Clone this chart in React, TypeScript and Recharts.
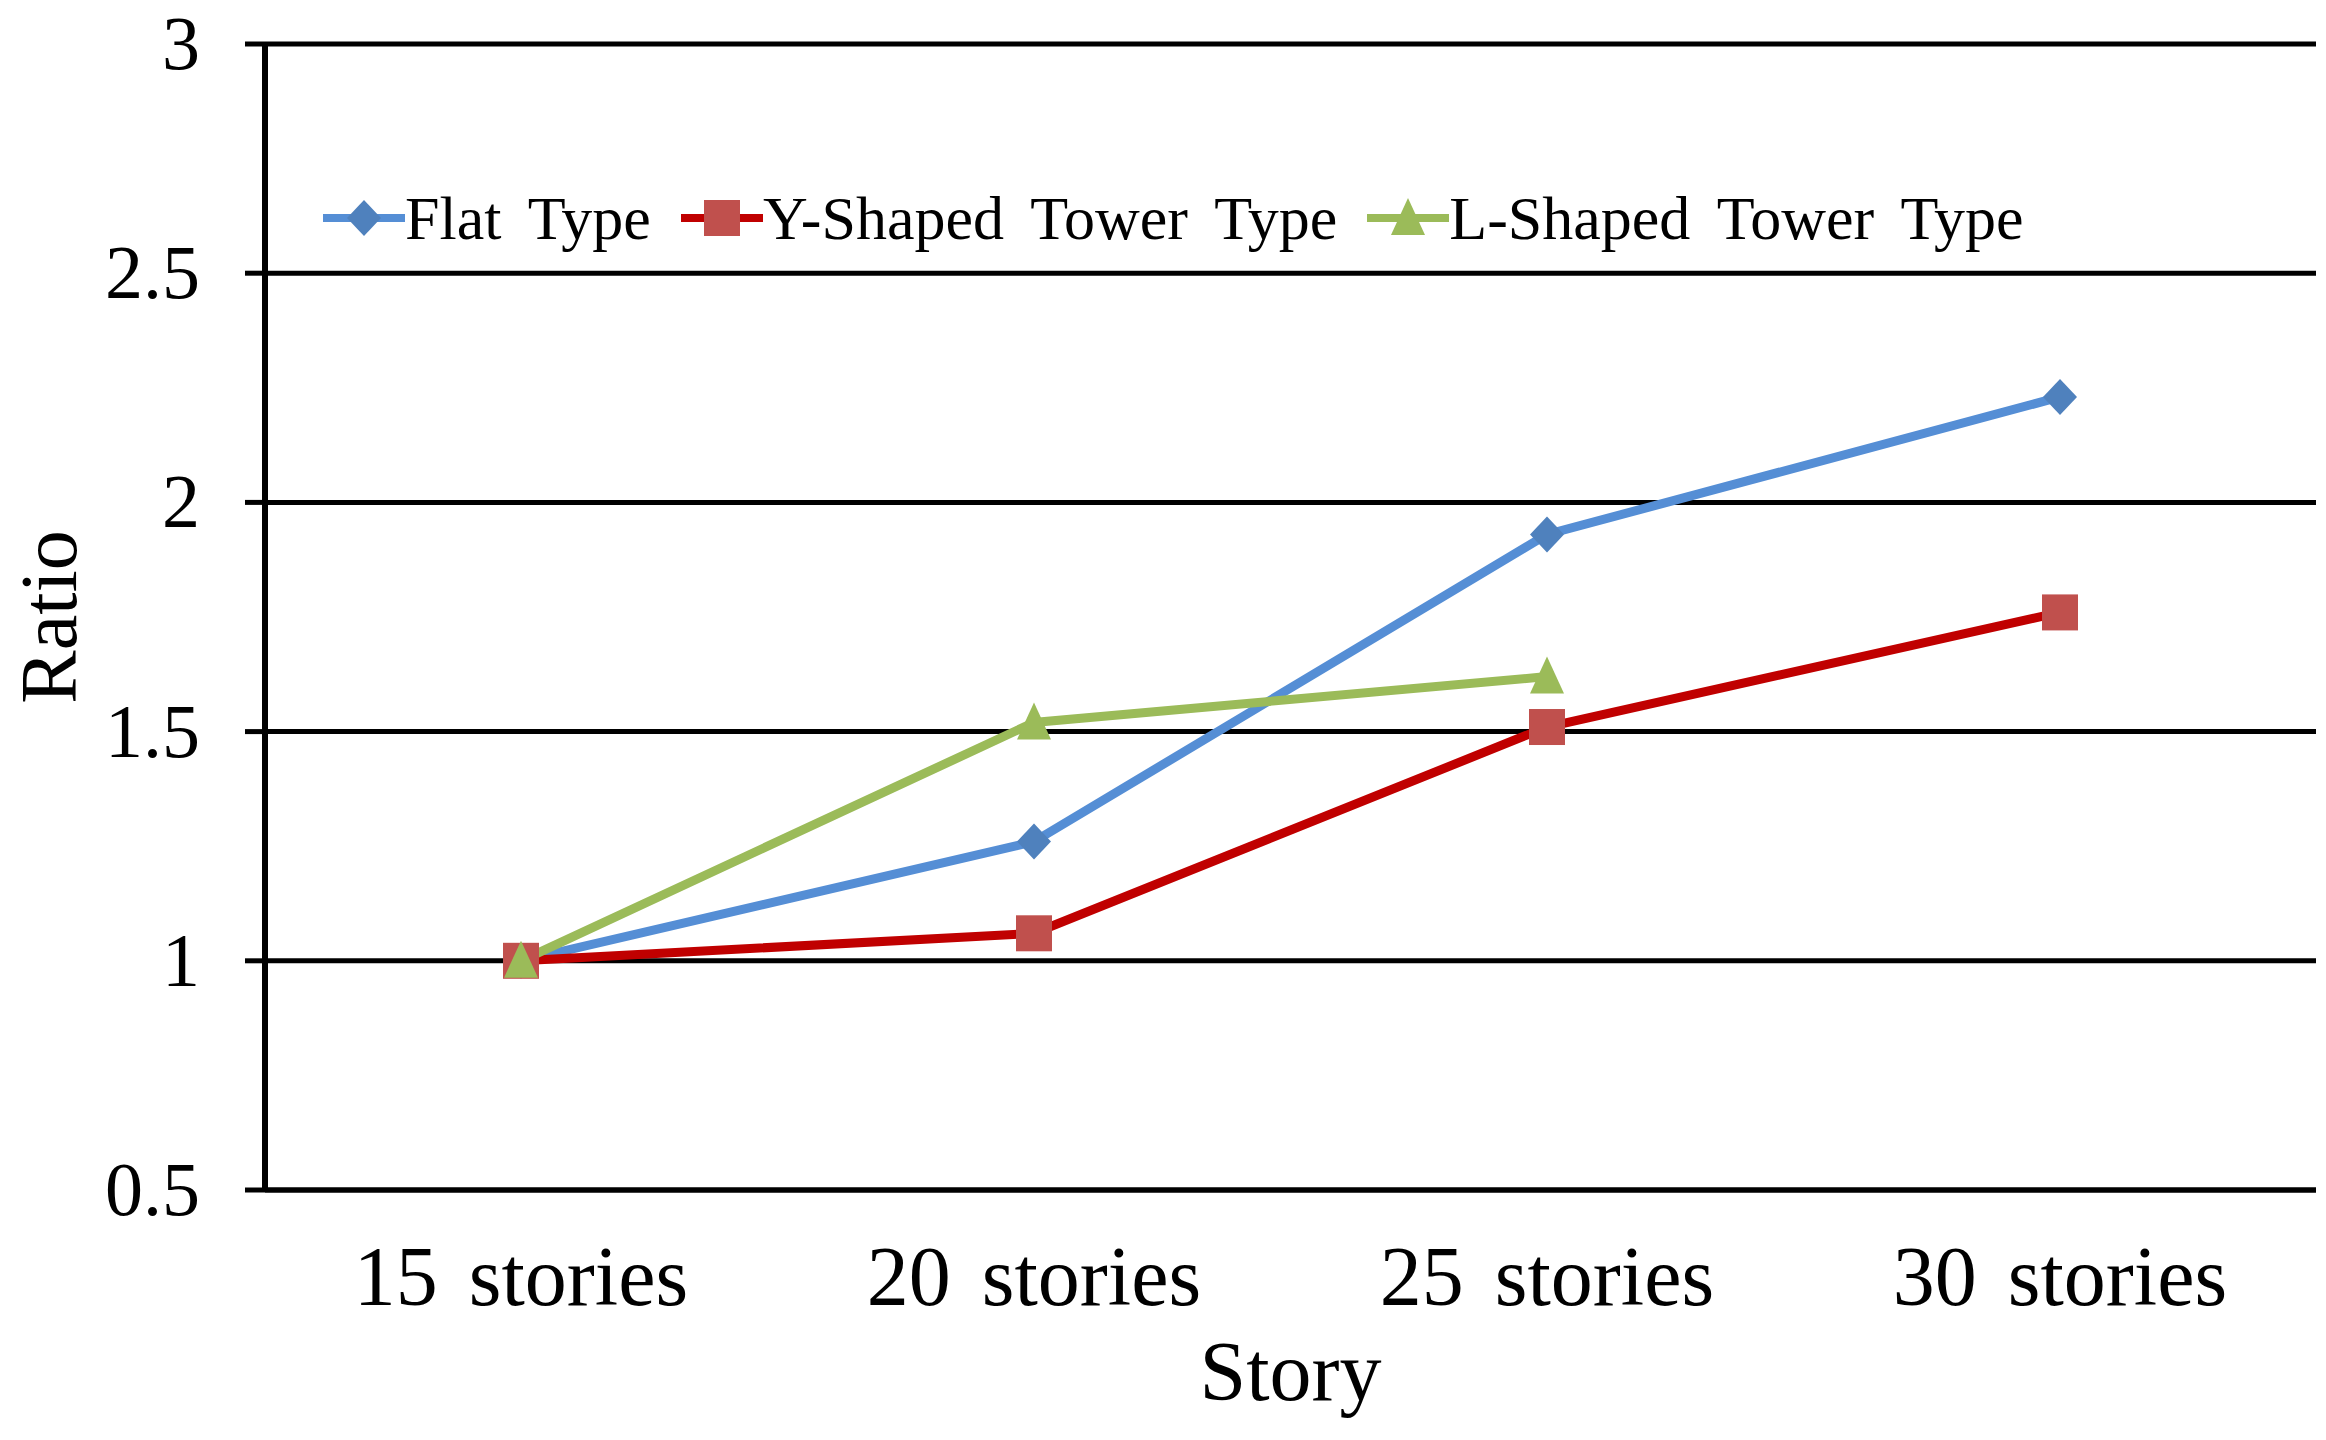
import { LineChart, Line, XAxis, YAxis, CartesianGrid, Legend, Label } from "recharts";

// values
const categories = ["15 stories", "20 stories", "25 stories", "30 stories"];
const flatType = [1.0, 1.26, 1.93, 2.23];
const yShapedTower = [1.0, 1.06, 1.51, 1.76];
const lShapedTower = [1.0, 1.52, 1.62, null];
const yTicks = [0.5, 1, 1.5, 2, 2.5, 3];

const seriesNames = ["Flat Type", "Y-Shaped Tower Type", "L-Shaped Tower Type"];
const seriesKeys = ["flat", "yShaped", "lShaped"];
const lineColors = ["#558ED5", "#C00000", "#9BBB59"];
const markerColors = ["#4F81BD", "#C0504D", "#9BBB59"];
const markerShapes = ["diamond", "square", "triangle"];

const data = categories.map((name, i) => ({
  name,
  flat: flatType[i],
  yShaped: yShapedTower[i],
  lShaped: lShapedTower[i],
}));

const FONT = '"Liberation Serif", "DejaVu Serif", serif';

function Marker({ shape, cx, cy, fill }: { shape: string; cx: number; cy: number; fill: string }) {
  if (shape === "diamond") {
    return (
      <polygon
        points={`${cx},${cy - 18} ${cx + 17},${cy} ${cx},${cy + 18} ${cx - 17},${cy}`}
        fill={fill}
      />
    );
  }
  if (shape === "square") {
    return <rect x={cx - 18} y={cy - 18} width={36} height={36} fill={fill} />;
  }
  return (
    <polygon
      points={`${cx},${cy - 20} ${cx + 17},${cy + 17} ${cx - 17},${cy + 17}`}
      fill={fill}
    />
  );
}

const makeDot = (idx: number) => (p: any) => {
  if (p.cx == null || p.cy == null || p.value == null) {
    return <g key={`empty-${idx}-${p.index}`} />;
  }
  return (
    <Marker
      key={`dot-${idx}-${p.index}`}
      shape={markerShapes[idx]}
      cx={p.cx}
      cy={p.cy}
      fill={markerColors[idx]}
    />
  );
};

const YTick = ({ x, y, payload }: any) => (
  <text x={x} y={y} dy={25} textAnchor="end" fontSize={76} fontFamily={FONT} fill="#000">
    {payload.value}
  </text>
);

const XTick = ({ x, y, payload }: any) => (
  <text
    x={x}
    y={y}
    dy={115}
    textAnchor="middle"
    fontSize={84}
    fontFamily={FONT}
    wordSpacing={10}
    fill="#000"
  >
    {payload.value}
  </text>
);

const YLabel = ({ viewBox }: any) => {
  const cx = viewBox.x + 76;
  const cy = viewBox.y + viewBox.height / 2;
  return (
    <text
      x={cx}
      y={cy}
      transform={`rotate(-90, ${cx}, ${cy})`}
      textAnchor="middle"
      fontSize={80}
      fontFamily={FONT}
      fill="#000"
    >
      Ratio
    </text>
  );
};

const XLabel = ({ viewBox }: any) => (
  <text
    x={viewBox.x + viewBox.width / 2}
    y={viewBox.y + 210}
    textAnchor="middle"
    fontSize={84}
    fontFamily={FONT}
    fill="#000"
  >
    Story
  </text>
);

const LegendContent = () => (
  <div style={{ display: "flex", alignItems: "center", whiteSpace: "nowrap" }}>
    {seriesNames.map((name, i) => (
      <div
        key={name}
        style={{ display: "flex", alignItems: "center", marginRight: 30 }}
      >
        <svg width={82} height={40} style={{ display: "block" }}>
          <line x1={0} y1={20} x2={82} y2={20} stroke={lineColors[i]} strokeWidth={8} />
          <Marker shape={markerShapes[i]} cx={41} cy={20} fill={markerColors[i]} />
        </svg>
        <span
          style={{
            fontFamily: FONT,
            fontSize: 62,
            lineHeight: 1,
            wordSpacing: 12,
            color: "#000",
          }}
        >
          {name}
        </span>
      </div>
    ))}
  </div>
);

export default function App() {
  return (
    <div style={{ position: "absolute", left: 0, top: 0, background: "#fff" }}>
      <LineChart
        width={2326}
        height={1440}
        data={data}
        margin={{ top: 44, right: 10, left: 0, bottom: 0 }}
      >
        <CartesianGrid vertical={false} stroke="#000" strokeWidth={5} />
        <XAxis
          dataKey="name"
          height={250}
          padding={{ left: 256, right: 256 }}
          axisLine={{ stroke: "#000", strokeWidth: 5 }}
          tickLine={false}
          tickSize={0}
          tickMargin={0}
          tick={<XTick />}
          interval={0}
          label={<Label content={XLabel} />}
        />
        <YAxis
          width={265}
          domain={[0.5, 3]}
          ticks={yTicks}
          interval={0}
          axisLine={{ stroke: "#000", strokeWidth: 6 }}
          tickLine={{ stroke: "#000", strokeWidth: 5 }}
          tickSize={20}
          tickMargin={45}
          tick={<YTick />}
          label={<Label content={YLabel} />}
        />
        <YAxis
          yAxisId="right"
          orientation="right"
          width={0}
          tick={false}
          tickLine={false}
          axisLine={{ stroke: "#000", strokeWidth: 5 }}
        />
        <Legend
          layout="horizontal"
          verticalAlign="middle"
          align="center"
          content={<LegendContent />}
          wrapperStyle={{ position: "absolute", top: 187, left: 323, width: "auto" }}
        />
        {seriesKeys.map((key, i) => (
          <Line
            key={key}
            type="linear"
            dataKey={key}
            name={seriesNames[i]}
            stroke={lineColors[i]}
            strokeWidth={9}
            dot={makeDot(i)}
            activeDot={false}
            isAnimationActive={false}
          />
        ))}
      </LineChart>
    </div>
  );
}
